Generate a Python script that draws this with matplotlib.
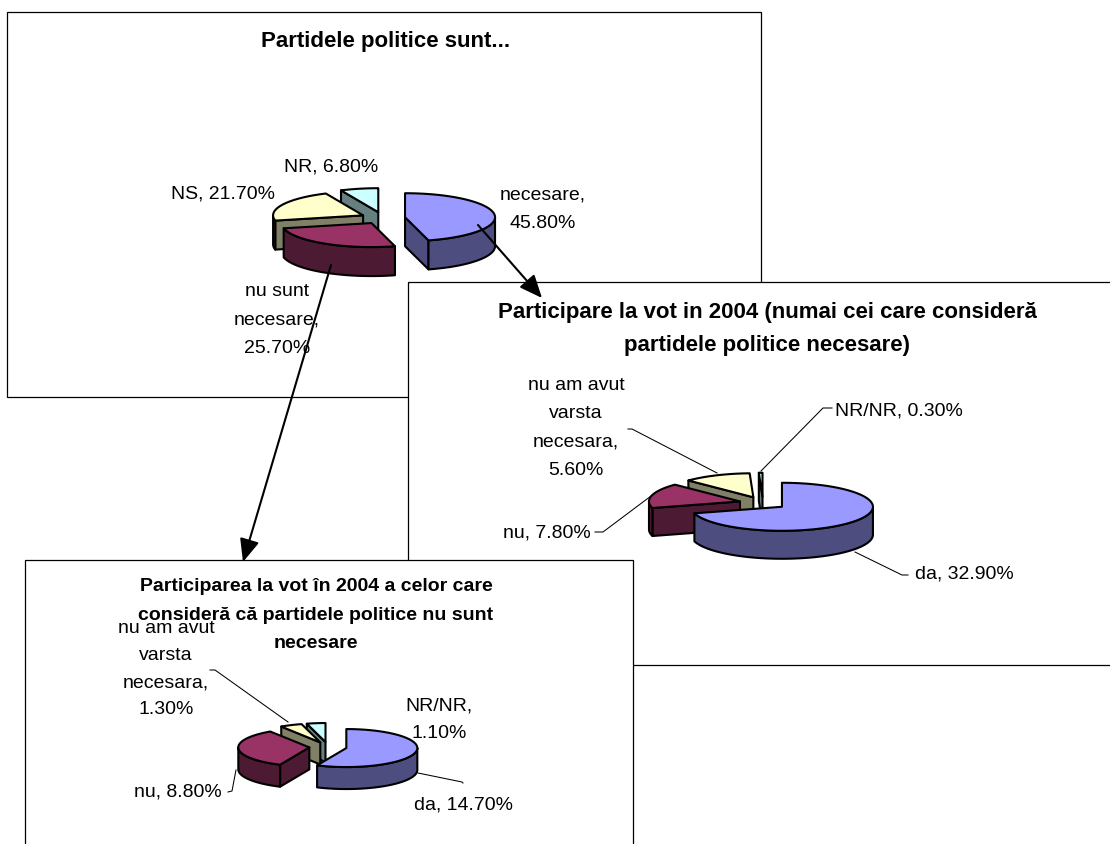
import numpy as np
import matplotlib
matplotlib.use("Agg")
import matplotlib.pyplot as plt
from matplotlib.patches import Polygon, Rectangle

plt.rcParams['font.family'] = ['Liberation Sans', 'DejaVu Sans']

# ---- data ----
title_1 = "Partidele politice sunt..."
labels_1 = ["necesare,\n45.80%", "nu sunt\nnecesare,\n25.70%", "NS, 21.70%", "NR, 6.80%"]
values_1 = [45.8, 25.7, 21.7, 6.8]

title_2 = "Participare la vot in 2004 (numai cei care consideră\npartidele politice necesare)"
labels_2 = ["da, 32.90%", "nu, 7.80%", "nu am avut\nvarsta\nnecesara,\n5.60%", "NR/NR, 0.30%"]
values_2 = [32.9, 7.8, 5.6, 0.3]

title_3 = "Participarea la vot în 2004 a celor care\nconsideră că partidele politice nu sunt\nnecesare"
labels_3 = ["da, 14.70%", "nu, 8.80%", "nu am avut\nvarsta\nnecesara,\n1.30%", "NR/NR,\n1.10%"]
values_3 = [14.7, 8.8, 1.3, 1.1]

top_colors = ["#9999FF", "#993366", "#FFFFCC", "#CCFFFF"]
side_colors = ["#4D4D80", "#4D1A33", "#808066", "#668080"]

W, H = 1110, 844
fig = plt.figure(figsize=(W / 100, H / 100), dpi=100, facecolor="white")
ax = fig.add_axes([0, 0, 1, 1])
ax.set_xlim(0, W)
ax.set_ylim(H, 0)
ax.axis("off")

LW = 1.5
FS = 14.0


def frame(x0, y0, x1, y1, z):
    ax.add_patch(Rectangle((x0, y0), x1 - x0, y1 - y0, fc="white", ec="black",
                           lw=0.9, zorder=z, clip_on=False))


def pie3d(values, centre, rx, ry, depth, explode, z):
    fracs = np.array(values, float) / np.sum(values)
    edges = np.concatenate([[0], np.cumsum(fracs) * 360])
    mids = (edges[:-1] + edges[1:]) / 2
    order = np.argsort(-np.cos(np.radians(mids)))
    for k, i in enumerate(order):
        a0, a1, m = edges[i], edges[i + 1], np.radians(mids[i])
        ax0 = centre[0] + explode * rx * np.sin(m)
        ay0 = centre[1] - explode * ry * np.cos(m)

        def pt(a):
            r = np.radians(a)
            return np.column_stack([ax0 + rx * np.sin(r), ay0 - ry * np.cos(r)])

        zz = z + k * 0.01
        kw = dict(fc=side_colors[i], ec="black", lw=LW, joinstyle="round", zorder=zz)
        down = np.array([0, depth])
        # visible radial faces
        for a, sign in ((a0, -1), (a1, 1)):
            if np.sin(np.radians(a)) * sign > 1e-6:
                p = pt(a)[0]
                ax.add_patch(Polygon([(ax0, ay0), p, p + down, (ax0, ay0 + depth)], **kw))
        # visible outer wall
        lo, hi = max(a0, 90), min(a1, 270)
        if hi > lo:
            arc = pt(np.linspace(lo, hi, 60))
            ax.add_patch(Polygon(np.vstack([arc, (arc + down)[::-1]]), **kw))
        # top
        arc = pt(np.linspace(a0, a1, 120))
        ax.add_patch(Polygon(np.vstack([[(ax0, ay0)], arc]), fc=top_colors[i], ec="black",
                             lw=LW, joinstyle="round", zorder=zz + 0.005))


def label(x, y, s, z, ha="center", size=FS, weight="normal", ls=1.88):
    ax.text(x, y, s, ha=ha, va="center", fontsize=size, fontweight=weight,
            linespacing=ls, zorder=z, color="black")


def leader(xs, ys, z):
    ax.plot(xs, ys, color="black", lw=0.75, zorder=z, solid_joinstyle="miter")


def arrow(p0, p1, z):
    ax.annotate("", xy=p1, xytext=p0, zorder=z,
                arrowprops=dict(arrowstyle="-|>,head_width=0.3,head_length=0.7",
                                mutation_scale=20, color="black", lw=1.5,
                                shrinkA=0, shrinkB=0))


# ---- chart 1 ----
frame(7, 12, 761, 397, 1)
pie3d(values_1, (383, 218), 90, 24, 29, 0.247, 2)
label(386, 42, title_1, 3, size=16.0, weight="bold")
label(543, 209, labels_1[0], 3)
label(277, 320, labels_1[1], 3)
label(223, 194, labels_1[2], 3)
label(331, 167, labels_1[3], 3)

# ---- chart 2 ----
frame(408, 282, 1125, 665, 4)
pie3d(values_2, (763, 503), 91, 24, 28, 0.261, 5)
label(767, 329, title_2, 6, size=16.0, weight="bold", ls=1.75)
label(964, 574, labels_2[0], 6)
label(547, 533, labels_2[1], 6)
label(576, 428, labels_2[2], 6)
label(899, 411, labels_2[3], 6)
leader([832, 823, 761], [408, 408, 471], 6)
leader([628, 632, 717], [429, 429, 473], 6)
leader([595, 603, 651], [532, 532, 496], 6)
leader([908, 902, 855], [575, 575, 552], 6)

# ---- chart 3 ----
frame(25, 560, 633, 860, 7)
pie3d(values_3, (328, 747), 71, 19, 22, 0.264, 8)
label(316, 615, title_3, 9, size=14.0, weight="bold", ls=1.85)
label(464, 805, labels_3[0], 9)
label(178, 792, labels_3[1], 9)
label(166, 669, labels_3[2], 9, ls=1.78)
label(439, 720, labels_3[3], 9, ls=1.78)
leader([210, 215, 288], [670, 670, 722], 9)
leader([228, 232, 236], [792, 791, 770], 9)
leader([463, 462, 418], [783, 782, 773], 9)

# ---- connecting arrows ----
arrow((478, 225), (542, 298), 10)
arrow((331, 265), (243, 562), 10)

fig.savefig("out.png", dpi=100, facecolor="white")
